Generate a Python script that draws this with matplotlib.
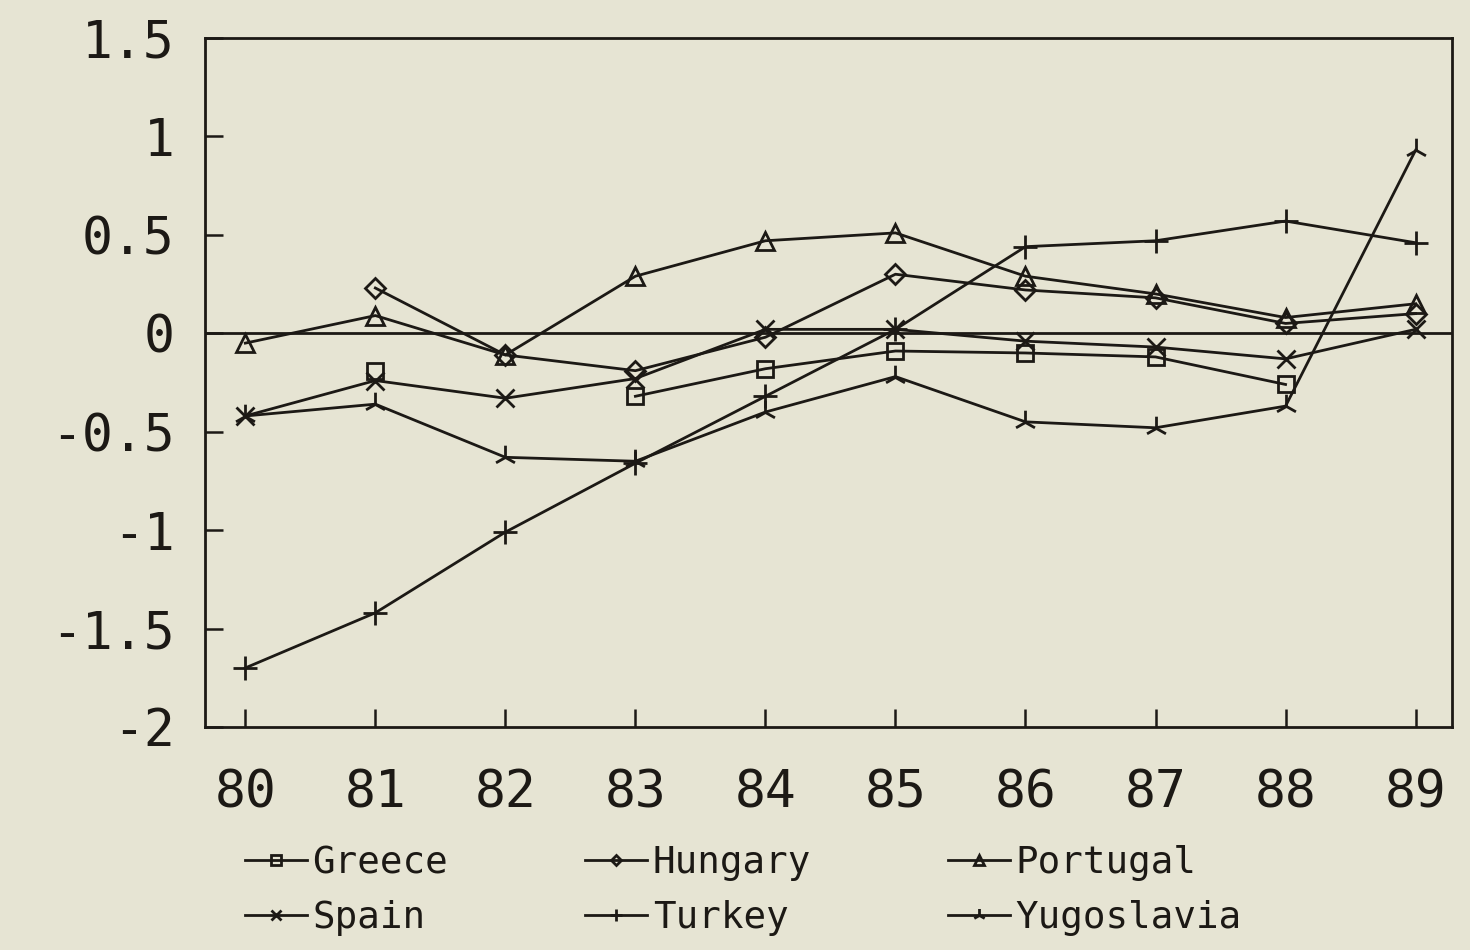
import matplotlib
matplotlib.use('Agg')
import matplotlib.pyplot as plt
import numpy as np
from matplotlib.path import Path

nan = np.nan
years = [80, 81, 82, 83, 84, 85, 86, 87, 88, 89]
greece = [nan, -0.19, nan, -0.32, -0.18, -0.09, -0.10, -0.12, -0.26, nan]
hungary = [nan, 0.23, -0.11, -0.19, -0.02, 0.30, 0.22, 0.18, 0.05, 0.10]
portugal = [-0.05, 0.09, -0.11, 0.29, 0.47, 0.51, 0.29, 0.20, 0.08, 0.15]
spain = [-0.42, -0.24, -0.33, -0.23, 0.02, 0.02, -0.04, -0.07, -0.13, 0.02]
turkey = [-1.70, -1.42, -1.01, -0.66, -0.32, 0.02, 0.44, 0.47, 0.57, 0.46]
yugoslavia = [-0.42, -0.36, -0.63, -0.65, -0.40, -0.22, -0.45, -0.48, -0.37, 0.93]

yticks = [1.5, 1, 0.5, 0, -0.5, -1, -1.5, -2]
ytick_labels = ['1.5', '1', '0.5', '0', '-0.5', '-1', '-1.5', '-2']

bg = '#e6e4d3'
ink = '#1c1915'
mono = 'DejaVu Sans Mono'

# plotter-style marker for Yugoslavia: stem up, two legs down
yugo_marker = Path([(0, 0), (0, 1), (0, 0), (-0.8, -0.45), (0, 0), (0.8, -0.45)],
                   [Path.MOVETO, Path.LINETO, Path.MOVETO, Path.LINETO, Path.MOVETO, Path.LINETO])

fig = plt.figure(figsize=(14.7, 9.5), dpi=100, facecolor=bg)
ax = fig.add_axes([205/1470, 1-727/950, (1452-205)/1470, (727-38)/950])
ax.set_facecolor(bg)

series = [
    ('Greece', greece, 's', 12),
    ('Hungary', hungary, 'D', 10),
    ('Portugal', portugal, '^', 13),
    ('Spain', spain, 'x', 13),
    ('Turkey', turkey, '+', 17),
    ('Yugoslavia', yugoslavia, yugo_marker, 17),
]
handles = {}
for name, vals, mk, ms in series:
    line, = ax.plot(years, vals, color=ink, lw=2.0, marker=mk, markersize=ms,
                    markerfacecolor='none', markeredgecolor=ink, markeredgewidth=2.0,
                    label=name)
    handles[name] = line

ax.axhline(0, color=ink, lw=2.0, zorder=1)

ax.set_xlim(79.69, 89.28)
ax.set_ylim(-2, 1.5)
ax.set_xticks(years)
ax.set_xticklabels([str(y) for y in years], fontsize=37, family=mono, color=ink)
ax.set_yticks(yticks)
ax.set_yticklabels(ytick_labels, fontsize=37, family=mono, color=ink)
ax.tick_params(axis='both', direction='in', length=13, width=1.8, color=ink)
ax.tick_params(axis='x', pad=30)
ax.tick_params(axis='y', pad=22)
for s in ax.spines.values():
    s.set_linewidth(2.0)
    s.set_color(ink)

# legend fills column by column, so order gives rows Greece/Hungary/Portugal, Spain/Turkey/Yugoslavia
order = ['Greece', 'Spain', 'Hungary', 'Turkey', 'Portugal', 'Yugoslavia']
fig.legend(handles=[handles[n] for n in order], loc='upper left',
           bbox_to_anchor=(245/1470, 1-845/950),
           ncol=3, frameon=False, prop={'family': mono, 'size': 27},
           handlelength=1.65, handletextpad=0.15, columnspacing=3.65,
           borderpad=0, borderaxespad=0, labelspacing=0.5, markerscale=0.55,
           labelcolor=ink)

fig.savefig('out.png', dpi=100, facecolor=bg)
